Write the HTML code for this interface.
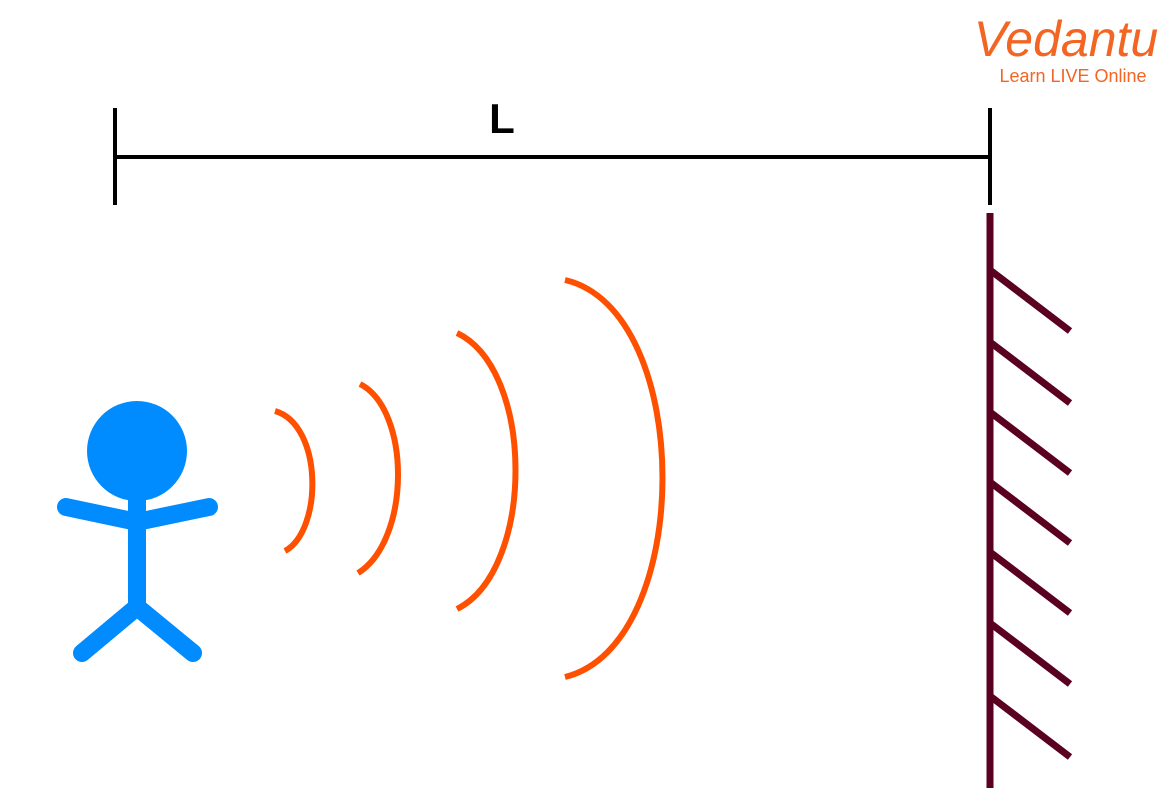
<!DOCTYPE html>
<html><head><style>html,body{margin:0;padding:0;background:#fff;width:1173px;height:812px;overflow:hidden}</style></head>
<body>
<svg width="1173" height="812" viewBox="0 0 1173 812" xmlns="http://www.w3.org/2000/svg">
<text x="1066" y="56" text-anchor="middle" font-family="Liberation Sans, sans-serif" font-size="50" font-style="italic" fill="#F26522">Vedantu</text>
<text x="1073" y="82" text-anchor="middle" font-family="Liberation Sans, sans-serif" font-size="18" fill="#F26522">Learn LIVE Online</text>
<g stroke="#000" stroke-width="4" fill="none">
<line x1="115" y1="157" x2="990" y2="157"/>
<line x1="115" y1="108" x2="115" y2="205"/>
<line x1="990" y1="108" x2="990" y2="205"/>
</g>
<text x="502" y="133" text-anchor="middle" font-family="Liberation Sans, sans-serif" font-size="42" font-weight="bold" fill="#000">L</text>
<g stroke="#FF5000" stroke-width="6" fill="none">
<path d="M275 411 C323 425, 323 530, 285 551"/>
<path d="M360 384 C411 410, 411 540, 358 573"/>
<path d="M457 333 C535 370, 535 570, 457 609"/>
<path d="M565 280 C695 310, 695 645, 565 677"/>
</g>
<g stroke="#5A0020" stroke-width="7" fill="none">
<line x1="990" y1="213" x2="990" y2="788"/>
<line x1="990" y1="270" x2="1070" y2="331"/>
<line x1="990" y1="342" x2="1070" y2="403"/>
<line x1="990" y1="412" x2="1070" y2="473"/>
<line x1="990" y1="482" x2="1070" y2="543"/>
<line x1="990" y1="552" x2="1070" y2="613"/>
<line x1="990" y1="623" x2="1070" y2="684"/>
<line x1="990" y1="696" x2="1070" y2="757"/>
</g>
<g stroke="#008CFF" stroke-width="18" stroke-linecap="round" fill="none">
<line x1="137" y1="490" x2="137" y2="607"/>
<line x1="66" y1="507" x2="137" y2="522"/>
<line x1="209" y1="507" x2="137" y2="522"/>
<line x1="137" y1="607" x2="82" y2="653"/>
<line x1="137" y1="607" x2="193" y2="653"/>
</g>
<circle cx="137" cy="451" r="50" fill="#008CFF"/>
</svg>
</body></html>
